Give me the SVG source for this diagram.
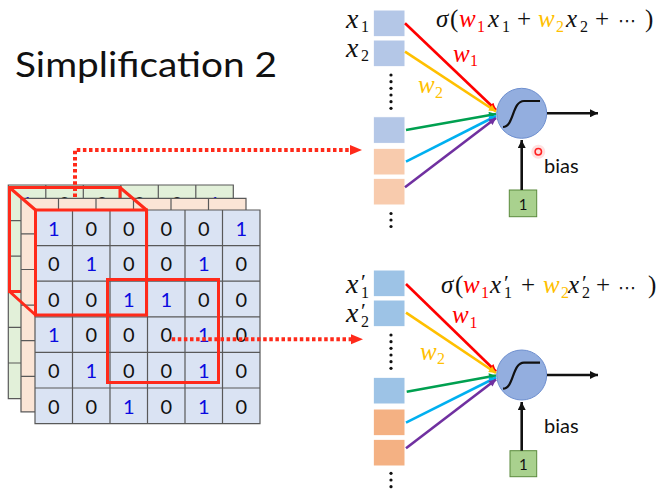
<svg xmlns="http://www.w3.org/2000/svg" width="660" height="491" viewBox="0 0 660 491">
<style>
.sans{font-family:Lato,"Liberation Sans",sans-serif;}
.mth{font-family:"Liberation Serif","DejaVu Sans",serif;fill:#111;}
.it{font-style:italic;}
.gl{fill:none;stroke:#595959;stroke-width:1.2;}
.d1{fill:#0a0ae0;}
.d0{fill:#111;}
.dig{font-family:Lato,"Liberation Sans",sans-serif;font-size:20px;text-anchor:middle;}
.rf{fill:none;stroke:#ff2a1a;stroke-width:3;}
.dot{fill:none;stroke:#ff2a1a;stroke-width:4;stroke-dasharray:3.5 2.6;}
.blue1{fill:#b4c7e7;stroke:#fff;stroke-width:1;}
.peach1{fill:#f8cbad;stroke:#fff;stroke-width:1;}
.blue2{fill:#9dc3e6;stroke:#fff;stroke-width:1;}
.peach2{fill:#f4b183;stroke:#fff;stroke-width:1;}
.vd{fill:#111;}
.neuron{fill:#93aedf;stroke:#6e8fcf;stroke-width:1;}
.sig{fill:none;stroke:#111;stroke-width:2.2;}
.box{fill:#a9d18e;stroke:#5b8a3c;stroke-width:1;}
.ln{fill:none;stroke-width:2.6;}
.r{fill:#ff0000;}
.y{fill:#ffc000;}
</style>
<defs>
<path id="gl" d="M0,0H225V213.6H0Z M37.5,0V213.6 M75,0V213.6 M112.5,0V213.6 M150,0V213.6 M187.5,0V213.6 M0,35.6H225 M0,71.2H225 M0,106.8H225 M0,142.4H225 M0,178H225"/>
<marker id="mR" viewBox="0 0 10 10" refX="10" refY="5" markerWidth="8" markerHeight="7" markerUnits="userSpaceOnUse" orient="auto"><path d="M0,0L10,5L0,10Z" fill="#ff0000"/></marker>
<marker id="mY" viewBox="0 0 10 10" refX="10" refY="5" markerWidth="8" markerHeight="7" markerUnits="userSpaceOnUse" orient="auto"><path d="M0,0L10,5L0,10Z" fill="#ffc000"/></marker>
<marker id="mG" viewBox="0 0 10 10" refX="10" refY="5" markerWidth="8" markerHeight="7" markerUnits="userSpaceOnUse" orient="auto"><path d="M0,0L10,5L0,10Z" fill="#00a050"/></marker>
<marker id="mC" viewBox="0 0 10 10" refX="10" refY="5" markerWidth="8" markerHeight="7" markerUnits="userSpaceOnUse" orient="auto"><path d="M0,0L10,5L0,10Z" fill="#00b0f0"/></marker>
<marker id="mP" viewBox="0 0 10 10" refX="10" refY="5" markerWidth="8" markerHeight="7" markerUnits="userSpaceOnUse" orient="auto"><path d="M0,0L10,5L0,10Z" fill="#7030a0"/></marker>
<marker id="mK" viewBox="0 0 10 10" refX="10" refY="5" markerWidth="10" markerHeight="8" markerUnits="userSpaceOnUse" orient="auto"><path d="M0,0L10,5L0,10Z" fill="#111"/></marker>
</defs>
<rect width="660" height="491" fill="#fff"/>

<g id="title"><text class="sans" x="15" y="77" font-size="35" fill="#111" textLength="262" lengthAdjust="spacingAndGlyphs">Simplification 2</text></g>

<g id="layer-green">
<rect x="8.3" y="185" width="225" height="213.6" fill="#e2f0d9"/>
<use href="#gl" x="8.3" y="185" class="gl"/>
<g class="dig">
<text class="d1" x="27" y="210.5">1</text><text class="d0" x="64.5" y="210.5">0</text><text class="d0" x="102" y="210.5">0</text><text class="d0" x="139.5" y="210.5">0</text><text class="d0" x="177" y="210.5">0</text><text class="d1" x="214.5" y="210.5">1</text>
</g>
<rect class="rf" x="9.5" y="187.5" width="110.5" height="104"/>
</g>

<g id="layer-orange">
<rect x="21" y="198.3" width="225" height="213.6" fill="#fbe5d6"/>
<use href="#gl" x="21" y="198.3" class="gl"/>
</g>

<g id="layer-front">
<rect x="35" y="210" width="225" height="213.6" fill="#dae3f3"/>
<use href="#gl" x="35" y="210" class="gl"/>
<g class="dig">
<text class="d1" x="53.75" y="235.5">1</text><text class="d0" x="91.25" y="235.5">0</text><text class="d0" x="128.75" y="235.5">0</text><text class="d0" x="166.25" y="235.5">0</text><text class="d0" x="203.75" y="235.5">0</text><text class="d1" x="241.25" y="235.5">1</text>
<text class="d0" x="53.75" y="271.1">0</text><text class="d1" x="91.25" y="271.1">1</text><text class="d0" x="128.75" y="271.1">0</text><text class="d0" x="166.25" y="271.1">0</text><text class="d1" x="203.75" y="271.1">1</text><text class="d0" x="241.25" y="271.1">0</text>
<text class="d0" x="53.75" y="306.7">0</text><text class="d0" x="91.25" y="306.7">0</text><text class="d1" x="128.75" y="306.7">1</text><text class="d1" x="166.25" y="306.7">1</text><text class="d0" x="203.75" y="306.7">0</text><text class="d0" x="241.25" y="306.7">0</text>
<text class="d1" x="53.75" y="342.3">1</text><text class="d0" x="91.25" y="342.3">0</text><text class="d0" x="128.75" y="342.3">0</text><text class="d0" x="166.25" y="342.3">0</text><text class="d1" x="203.75" y="342.3">1</text><text class="d0" x="241.25" y="342.3">0</text>
<text class="d0" x="53.75" y="377.9">0</text><text class="d1" x="91.25" y="377.9">1</text><text class="d0" x="128.75" y="377.9">0</text><text class="d0" x="166.25" y="377.9">0</text><text class="d1" x="203.75" y="377.9">1</text><text class="d0" x="241.25" y="377.9">0</text>
<text class="d0" x="53.75" y="413.5">0</text><text class="d0" x="91.25" y="413.5">0</text><text class="d1" x="128.75" y="413.5">1</text><text class="d0" x="166.25" y="413.5">0</text><text class="d1" x="203.75" y="413.5">1</text><text class="d0" x="241.25" y="413.5">0</text>
</g>
</g>

<g id="filter-1">
<rect class="rf" x="35.5" y="210" width="111" height="105"/>
<path class="rf" d="M9.5,187.5L35.5,210 M120,187.5L146.5,210 M9.5,291.5L35.5,315"/>
</g>
<g id="filter-2">
<rect class="rf" x="107.5" y="279.5" width="111" height="103"/>
</g>

<g id="inputs-top">
<rect class="blue1" x="373.3" y="10" width="31.7" height="26.7"/>
<rect class="blue1" x="373.3" y="40" width="31.7" height="26.7"/>
<g class="vd"><circle cx="391" cy="75" r="1.6"/><circle cx="391" cy="81.7" r="1.6"/><circle cx="391" cy="88.3" r="1.6"/><circle cx="391" cy="95" r="1.6"/><circle cx="391" cy="101.7" r="1.6"/><circle cx="391" cy="108.3" r="1.6"/></g>
<rect class="blue1" x="373.3" y="116.7" width="31.7" height="26.7"/>
<rect class="peach1" x="373.3" y="148.3" width="31.7" height="26.7"/>
<rect class="peach1" x="373.3" y="178.3" width="31.7" height="26.7"/>
<g class="vd"><circle cx="391" cy="213.5" r="1.6"/><circle cx="391" cy="220" r="1.6"/><circle cx="391" cy="226.5" r="1.6"/></g>
<text class="mth"><tspan class="it" x="346" y="28.3" font-size="28">x</tspan><tspan x="361" y="32" font-size="16">1</tspan></text>
<text class="mth"><tspan class="it" x="346" y="56.7" font-size="28">x</tspan><tspan x="361" y="61" font-size="16">2</tspan></text>
</g>

<g id="inputs-bottom">
<rect class="blue2" x="373.3" y="270" width="31.7" height="26.7"/>
<rect class="blue2" x="373.3" y="300" width="31.7" height="26.7"/>
<g class="vd"><circle cx="391" cy="335" r="1.6"/><circle cx="391" cy="341.7" r="1.6"/><circle cx="391" cy="348.3" r="1.6"/><circle cx="391" cy="355" r="1.6"/><circle cx="391" cy="361.7" r="1.6"/><circle cx="391" cy="368.3" r="1.6"/></g>
<rect class="blue2" x="373.3" y="377.3" width="31.7" height="26.7"/>
<rect class="peach2" x="373.3" y="409" width="31.7" height="26.7"/>
<rect class="peach2" x="373.3" y="439.3" width="31.7" height="26.7"/>
<g class="vd"><circle cx="391" cy="473.3" r="1.6"/><circle cx="391" cy="480" r="1.6"/><circle cx="391" cy="486.7" r="1.6"/></g>
<text class="mth"><tspan class="it" x="346" y="293.3" font-size="28">x</tspan><tspan x="361" y="289" font-size="22">′</tspan><tspan x="361" y="297.5" font-size="16">1</tspan></text>
<text class="mth"><tspan class="it" x="346" y="321.7" font-size="28">x</tspan><tspan x="361" y="317.5" font-size="22">′</tspan><tspan x="361" y="326.5" font-size="16">2</tspan></text>
</g>

<g id="neuron-top">
<circle class="neuron" cx="521.7" cy="113.3" r="25"/>
<path class="sig" d="M503,127 C514,127 512,101 524,101 L540,101"/>
</g>
<g id="neuron-bottom">
<circle class="neuron" cx="521.7" cy="375" r="25"/>
<path class="sig" d="M503,388.7 C514,388.7 512,362.7 524,362.7 L540,362.7"/>
</g>

<g id="bias-top">
<rect class="box" x="509.3" y="190" width="27.4" height="26.7"/>
<text class="sans" x="523" y="209.5" font-size="15" text-anchor="middle" fill="#111">1</text>
<text class="sans" x="544" y="173.3" font-size="20" fill="#111">bias</text>
</g>
<g id="bias-bottom">
<rect class="box" x="510" y="450.7" width="26.7" height="26"/>
<text class="sans" x="523.3" y="469.5" font-size="15" text-anchor="middle" fill="#111">1</text>
<text class="sans" x="544" y="433" font-size="20" fill="#111">bias</text>
</g>

<g id="pointer"><circle cx="538.3" cy="151.7" r="7" fill="#ff3030" opacity="0.15"/><circle cx="538.3" cy="151.7" r="3.2" fill="#ffe0e0" stroke="#ff2020" stroke-width="1.5"/></g>

<g id="formula-top">
<text class="mth" font-size="25"><tspan class="it" x="436" y="26.7">σ</tspan><tspan x="450" y="26.7">(</tspan><tspan class="it r" x="459" y="26.7">w</tspan><tspan class="r" x="477" y="31.7" font-size="16">1</tspan><tspan class="it" x="488" y="26.7">x</tspan><tspan x="502" y="31.7" font-size="16">1</tspan><tspan x="517" y="26.7">+</tspan><tspan class="it y" x="538" y="26.7">w</tspan><tspan class="y" x="556" y="31.7" font-size="16">2</tspan><tspan class="it" x="566" y="26.7">x</tspan><tspan x="580" y="31.7" font-size="16">2</tspan><tspan x="595" y="26.7">+</tspan><tspan x="618" y="27" font-size="18">⋯</tspan><tspan x="645" y="26.7">)</tspan></text>
</g>
<g id="formula-bottom">
<text class="mth" font-size="25"><tspan class="it" x="441" y="293.3">σ</tspan><tspan x="455" y="293.3">(</tspan><tspan class="it r" x="463" y="293.3">w</tspan><tspan class="r" x="481" y="298" font-size="16">1</tspan><tspan class="it" x="490" y="293.3">x</tspan><tspan x="504" y="290" font-size="22">′</tspan><tspan x="504" y="298" font-size="16">1</tspan><tspan x="521" y="293.3">+</tspan><tspan class="it y" x="543" y="293.3">w</tspan><tspan class="y" x="561" y="298" font-size="16">2</tspan><tspan class="it" x="568" y="293.3">x</tspan><tspan x="582" y="290" font-size="22">′</tspan><tspan x="582" y="298" font-size="16">2</tspan><tspan x="596" y="293.3">+</tspan><tspan x="618" y="293.6" font-size="18">⋯</tspan><tspan x="648" y="293.3">)</tspan></text>
</g>

<g id="weight-labels">
<text class="mth"><tspan class="it r" x="453" y="62" font-size="25">w</tspan><tspan class="r" x="470" y="66" font-size="16">1</tspan></text>
<text class="mth"><tspan class="it y" x="418" y="93.3" font-size="25">w</tspan><tspan class="y" x="435" y="97.5" font-size="16">2</tspan></text>
<text class="mth"><tspan class="it r" x="452" y="323.3" font-size="25">w</tspan><tspan class="r" x="469.5" y="327.5" font-size="16">1</tspan></text>
<text class="mth"><tspan class="it y" x="420" y="360" font-size="25">w</tspan><tspan class="y" x="437" y="364" font-size="16">2</tspan></text>
</g>

<g id="connectors">
<path class="dot" d="M75,197V150H351"/>
<path d="M350,145L362,150L350,155Z" fill="#ff2a1a"/>
<path class="dot" d="M171.7,339.3H351"/>
<path d="M351,334.3L363,339.3L351,344.3Z" fill="#ff2a1a"/>

<path class="ln" stroke="#ff0000" marker-end="url(#mR)" d="M405,23.3L496,110"/>
<path class="ln" stroke="#ffc000" marker-end="url(#mY)" d="M405,51.7L496,111.5"/>
<path class="ln" stroke="#00a050" marker-end="url(#mG)" d="M406,130L496,114"/>
<path class="ln" stroke="#00b0f0" marker-end="url(#mC)" d="M406,161.7L496,116"/>
<path class="ln" stroke="#7030a0" marker-end="url(#mP)" d="M405,187.3L496,118"/>
<path class="ln" stroke="#111" marker-end="url(#mK)" d="M547,113.3L598,113.3"/>
<path class="ln" stroke="#111" marker-end="url(#mK)" d="M521.7,190L521.7,140"/>

<path class="ln" stroke="#ff0000" marker-end="url(#mR)" d="M406,284L496,371.5"/>
<path class="ln" stroke="#ffc000" marker-end="url(#mY)" d="M406,312.7L496,373"/>
<path class="ln" stroke="#00a050" marker-end="url(#mG)" d="M406.7,391.7L496,375.5"/>
<path class="ln" stroke="#00b0f0" marker-end="url(#mC)" d="M406,422.7L496,377.5"/>
<path class="ln" stroke="#7030a0" marker-end="url(#mP)" d="M406,448.3L496,379.5"/>
<path class="ln" stroke="#111" marker-end="url(#mK)" d="M547,375L598,375"/>
<path class="ln" stroke="#111" marker-end="url(#mK)" d="M521.7,450.7L521.7,402"/>
</g>
</svg>
